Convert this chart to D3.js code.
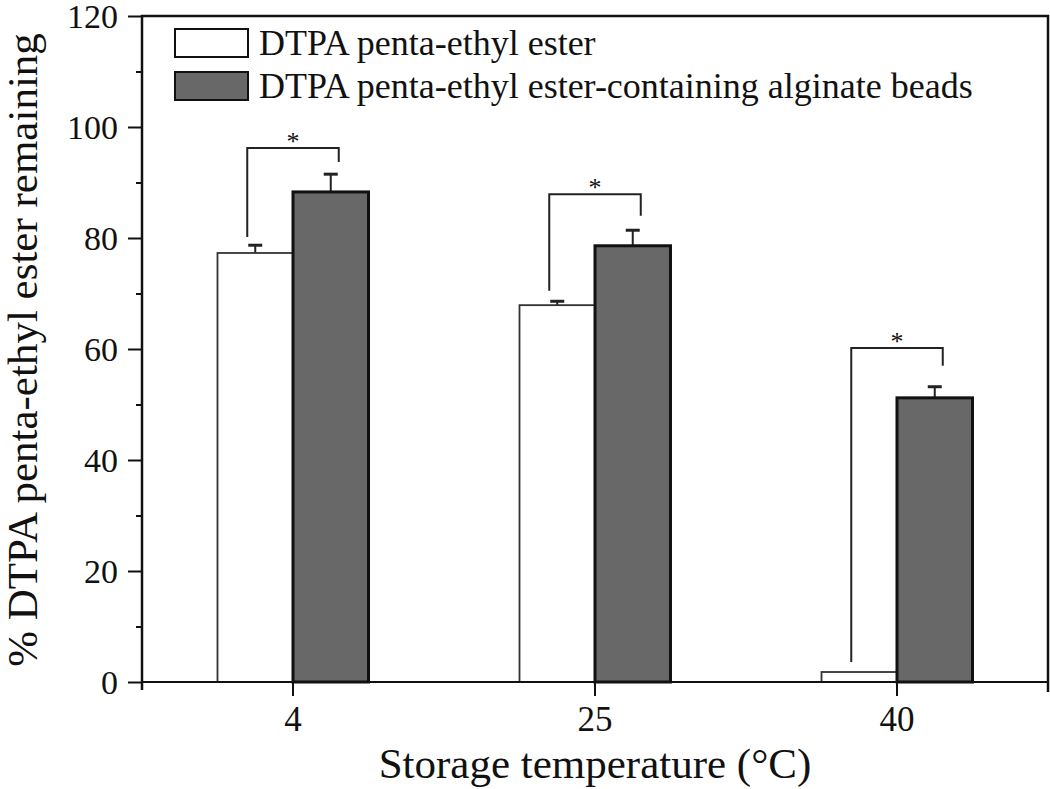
<!DOCTYPE html>
<html>
<head>
<meta charset="utf-8">
<script src="https://cdn.jsdelivr.net/npm/d3@7"></script>
<style>
  body { margin: 0; background: #fff; }
  svg text { font-family: "Liberation Serif", "Times New Roman", serif; fill: #111; }
</style>
</head>
<body>
<svg width="1050" height="789"></svg>
<script>
// data
const temperatures = ['4', '25', '40']
const seriesNames = ['DTPA penta-ethyl ester', 'DTPA penta-ethyl ester-containing alginate beads']
const esterValues = [77.3, 67.9, 1.8]
const esterErrors = [1.4, 0.7, 0]
const beadValues = [88.3, 78.6, 51.2]
const beadErrors = [3.2, 2.8, 2.0]
// significance brackets: top of bracket, left foot, right foot
const bracketTop = [96.2, 87.9, 60.2]
const bracketLeftFoot = [80.2, 70.5, 3.6]
const bracketRightFoot = [93.7, 84.0, 57.0]
const yTicks = [0, 20, 40, 60, 80, 100, 120]

const svg = d3.select('svg')
const plotLeft = 142, plotRight = 1048, plotTop = 16, plotBottom = 682
const colors = ['#ffffff', '#686868']

const x = d3.scaleBand().domain(temperatures).range([plotLeft, plotRight])
    .paddingInner(0.5).paddingOuter(0.25)
const sub = d3.scaleBand().domain([0, 1]).range([0, x.bandwidth()])
const y = d3.scaleLinear().domain([0, 120]).range([plotBottom, plotTop])

const rows = temperatures.map((t, i) => ({
    t,
    bars: [
        { s: 0, v: esterValues[i], e: esterErrors[i] },
        { s: 1, v: beadValues[i], e: beadErrors[i] },
    ],
}))

// bars
const groups = svg.append('g').selectAll('g.group').data(rows).join('g')
    .attr('class', 'group')
    .attr('transform', d => `translate(${x(d.t)},0)`)

groups.selectAll('g.err').data(d => d.bars.filter(b => b.e > 0)).join('g')
    .attr('class', 'err')
    .each(function (b) {
        const g = d3.select(this)
        const cx = sub(b.s) + sub.bandwidth() / 2
        g.append('line').attr('x1', cx).attr('x2', cx)
            .attr('y1', y(b.v)).attr('y2', y(b.v + b.e))
            .attr('stroke', '#222').attr('stroke-width', 2)
        g.append('line').attr('x1', cx - 7).attr('x2', cx + 7)
            .attr('y1', y(b.v + b.e)).attr('y2', y(b.v + b.e))
            .attr('stroke', '#222').attr('stroke-width', 3)
    })

groups.selectAll('rect').data(d => d.bars).join('rect')
    .attr('x', b => sub(b.s))
    .attr('width', sub.bandwidth())
    .attr('y', b => y(b.v))
    .attr('height', b => plotBottom - y(b.v))
    .attr('fill', b => colors[b.s])
    .attr('stroke', b => b.s === 1 ? '#111' : '#333')
    .attr('stroke-width', b => b.s === 1 ? 3 : 1.8)

// significance brackets
groups.each(function (d, i) {
    const g = d3.select(this)
    const x1 = sub(0) + sub.bandwidth() / 2 - 8
    const x2 = sub(1) + sub.bandwidth() / 2 + 8
    g.append('path')
        .attr('d', `M${x1},${y(bracketLeftFoot[i])}V${y(bracketTop[i])}H${x2}V${y(bracketRightFoot[i])}`)
        .attr('fill', 'none').attr('stroke', '#222').attr('stroke-width', 2)
    g.append('text')
        .attr('x', (x1 + x2) / 2).attr('y', y(bracketTop[i]) + 2)
        .attr('text-anchor', 'middle').attr('font-size', 26)
        .text('*')
})

// axes
const yAxis = svg.append('g').attr('transform', `translate(${plotLeft},0)`)
    .call(d3.axisLeft(y).tickValues(yTicks).tickSize(14).tickPadding(10).tickSizeOuter(0))
const yMinor = svg.append('g').attr('transform', `translate(${plotLeft},0)`)
    .call(d3.axisLeft(y).tickValues(d3.range(10, 120, 20)).tickSize(6).tickFormat('').tickSizeOuter(0))
const xAxis = svg.append('g').attr('transform', `translate(0,${plotBottom})`)
    .call(d3.axisBottom(x).tickSize(14).tickPadding(10).tickSizeOuter(0))

for (const a of [yAxis, yMinor, xAxis]) {
    a.select('.domain').remove()
    a.selectAll('.tick line').attr('stroke', '#111').attr('stroke-width', 2)
}
yAxis.selectAll('.tick text').attr('font-size', 34).attr('dy', '0.35em')
xAxis.selectAll('.tick text').attr('font-size', 35)

// frame
svg.append('path')
    .attr('d', `M${plotLeft},${plotBottom + 8}V${plotTop}H${plotRight}V${plotBottom + 10}`)
    .attr('fill', 'none').attr('stroke', '#111').attr('stroke-width', 2.5)
svg.append('line').attr('x1', plotLeft).attr('x2', plotRight)
    .attr('y1', plotBottom).attr('y2', plotBottom)
    .attr('stroke', '#111').attr('stroke-width', 2)

// axis titles
svg.append('text')
    .attr('transform', 'translate(37,350) rotate(-90)')
    .attr('text-anchor', 'middle').attr('font-size', 43)
    .text('% DTPA penta-ethyl ester remaining')
svg.append('text')
    .attr('x', 595).attr('y', 778)
    .attr('text-anchor', 'middle').attr('font-size', 43)
    .text('Storage temperature (°C)')

// legend
const legend = svg.append('g').attr('transform', 'translate(175,29)')
const items = legend.selectAll('g').data(seriesNames).join('g')
    .attr('transform', (d, i) => `translate(0,${i * 43})`)
items.append('rect').attr('width', 73).attr('height', 28)
    .attr('fill', (d, i) => colors[i])
    .attr('stroke', '#111').attr('stroke-width', 2)
items.append('text').attr('x', 84).attr('y', 26)
    .attr('font-size', 36).text(d => d)
</script>
</body>
</html>
